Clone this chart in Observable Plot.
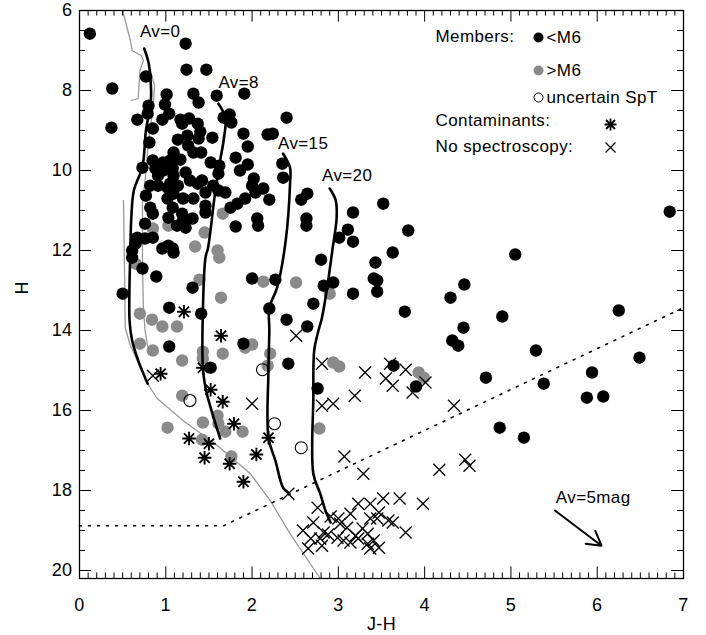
<!DOCTYPE html>
<html><head><meta charset="utf-8">
<script src="https://cdn.jsdelivr.net/npm/d3@7"></script>
<script src="https://cdn.jsdelivr.net/npm/@observablehq/plot@0.6"></script>
<style>
body{margin:0;background:#fff}
svg text{letter-spacing:0.4px}
</style>
</head><body><div id="chart"></div>
<script>
// ---- data: [J-H, H] ----
const membersEarly = [ // < M6 (black)
[0.12,6.58],[1.23,6.83],[1.24,7.48],[1.47,7.48],[0.38,7.95],[0.77,7.65],[0.37,8.93],
[1.01,8.1],[1.32,8.08],[1.38,8.3],[1.59,8.13],[1.91,8.08],[0.80,8.38],[0.99,8.35],[0.67,8.73],[0.79,8.58],[0.96,8.73],[1.04,8.58],[1.17,8.73],[1.27,8.7],[1.19,8.83],[1.37,8.83],[1.40,9.03],[1.67,8.68],[1.74,8.6],[1.76,8.8],[0.85,8.95],[1.90,9.08],[2.18,9.1],[1.25,9.13],[1.14,9.23],[1.38,9.2],[1.54,9.18],[0.81,9.3],[1.26,9.38],[1.95,9.4],[1.09,9.55],[1.32,9.55],[1.41,9.55],[1.81,9.68],[0.85,9.75],[1.17,9.73],[1.52,9.8],[0.97,9.8],[1.05,9.75],[0.73,9.93],[0.88,9.95],[0.97,10.0],[1.08,9.95],[1.62,9.88],[1.86,10.0],[1.95,9.85],[0.91,10.13],[1.09,10.13],[1.23,10.05],[1.61,10.08],[1.42,10.25],[1.28,10.25],[0.82,10.38],[1.02,10.43],[1.14,10.38],[1.55,10.38],[2.02,10.2],[2.0,10.38],[2.13,10.45],[2.40,8.68],[2.35,9.83],[2.36,10.18],[2.24,9.08],
[0.91,10.38],[1.05,10.33],[1.37,10.33],[1.61,10.5],[1.69,10.55],[2.04,10.55],[0.77,10.63],[1.02,10.7],[1.09,10.58],[1.20,10.7],[1.32,10.7],[1.46,10.55],[0.82,10.93],[0.85,11.08],[1.08,10.93],[1.46,10.88],[1.46,11.05],[1.75,10.93],[1.83,10.83],[1.92,10.7],[2.2,10.73],[1.03,11.18],[1.19,11.08],[1.20,11.25],[1.31,11.2],[1.13,11.38],[1.23,11.43],[0.76,11.33],[1.81,11.4],[2.06,11.2],[2.07,11.38],[0.67,11.68],[0.76,11.7],[0.85,11.68],[0.65,11.83],[0.61,12.0],[0.96,11.95],[1.08,11.95],[1.09,12.05],[1.03,11.88],[0.61,12.18],[0.73,12.45],
[0.89,12.65],[0.50,13.08],[1.31,12.93],[2.0,12.7],[2.27,12.73],[1.04,13.43],[1.41,13.58],[2.20,13.45],[2.40,13.73],[1.04,14.4],[1.90,14.33],[2.42,14.83],[1.52,14.93],
[2.57,10.73],[2.64,10.58],[2.63,11.2],[2.63,11.38],[3.17,11.05],[3.52,10.83],[3.11,11.48],[3.01,11.68],[3.17,11.78],[3.81,11.5],[3.63,12.05],[2.80,12.23],[3.43,12.3],[2.83,12.88],[2.94,12.8],[3.41,12.7],[3.45,12.75],[3.45,13.03],[3.17,13.08],[2.71,13.33],[3.77,13.53],[4.46,12.85],[4.30,13.18],[4.45,13.93],[4.32,14.25],[4.39,14.38],[2.64,13.9],
[3.64,14.88],[3.90,15.4],[2.76,15.45],[4.71,15.18],
[6.84,11.03],[5.05,12.1],[4.90,13.65],[6.25,13.5],[5.29,14.5],[6.49,14.68],[5.38,15.33],[5.94,15.05],[5.88,15.68],[6.07,15.65],[4.87,16.43],[5.15,16.68]
];
const membersLate = [ // > M6 (gray)
[1.66,11.08],[0.85,11.45],[1.03,11.38],[1.45,11.55],[1.34,11.9],[1.60,12.0],[1.62,12.18],[0.65,12.33],[1.39,12.73],[2.13,12.78],[1.64,13.18],[0.70,13.58],[0.84,13.73],[0.96,13.9],[1.13,13.9],[0.70,14.33],[0.85,14.5],[1.19,14.75],[1.43,14.53],[1.43,14.7],[1.66,14.58],[1.92,14.43],[2.0,14.35],[2.21,14.58],[2.18,14.88],[1.19,15.63],[1.02,16.43],[1.43,16.3],[1.60,16.13],[1.61,16.33],[1.69,16.53],[1.89,16.53],[1.42,16.73],[1.76,17.15],[2.51,12.8],[2.90,13.08],[2.94,14.8],[3.01,14.9],[3.93,15.05],[3.99,15.18],[2.78,16.45]
];
const membersUncertain = [[2.12,14.98],[1.28,15.75],[2.26,16.33],[2.57,16.93]];
const contaminants = [
[1.21,13.53],[1.64,14.13],[0.94,15.08],[1.43,14.93],[1.52,15.48],[1.66,15.78],[1.79,16.33],[1.27,16.7],[1.50,16.83],[2.19,16.68],[1.45,17.18],[1.74,17.33],[2.05,17.1],[1.90,17.78]
];
const noSpectroscopy = [
[0.85,15.13],[2.0,15.83],[2.42,18.08],[2.51,14.13],[2.81,14.83],[3.31,15.05],[3.60,14.83],[3.78,14.98],[3.55,15.2],[3.63,15.38],[4.01,15.3],[3.86,15.55],[3.19,15.63],[2.81,15.88],[2.94,15.83],[4.34,15.88],[3.07,17.15],[3.29,17.58],[4.17,17.48],[4.47,17.23],[4.52,17.38],
[2.76,18.43],[3.23,18.33],[3.37,18.33],[3.52,18.2],[3.71,18.2],[3.98,18.33],[3.47,18.55],[3.14,18.58],[3.0,18.7],[2.91,18.65],[3.58,18.75],[3.63,18.8],[2.71,18.8],[3.02,18.83],[3.10,18.93],[3.37,18.7],[3.45,18.7],[3.28,18.95],[3.78,19.05],[2.59,19.0],[2.83,19.05],[2.68,19.2],[2.79,19.2],[2.88,19.1],[2.99,19.18],[3.06,19.25],[3.14,19.3],[3.23,19.2],[3.34,19.08],[3.34,19.33],[3.41,19.25],[3.37,19.45],[3.47,19.43],[2.65,19.45],[2.81,19.38],[3.20,19.13]
];
// isochrones, reddened by Av
const iso0 = [[0.75,6.95],[0.80,7.3],[0.82,7.65],[0.83,8.1],[0.82,8.4],[0.77,9.0],[0.73,9.9],[0.63,10.5],[0.60,11.2],[0.59,11.93],[0.58,13.75],[0.61,14.25],[0.68,14.75],[0.76,15.18],[0.79,15.33]];
const iso8 = [[1.61,8.33],[1.69,8.68],[1.67,9.25],[1.63,9.75],[1.57,10.58],[1.49,11.93],[1.46,12.18],[1.43,13.5],[1.43,14.93],[1.46,15.43],[1.52,15.93],[1.63,16.7]];
const iso15 = [[2.36,9.58],[2.44,9.93],[2.44,10.33],[2.39,11.75],[2.29,12.93],[2.20,13.43],[2.20,14.0],[2.19,15.0],[2.19,16.68],[2.27,17.25],[2.36,17.93],[2.42,18.05]];
const iso20 = [[2.90,10.45],[2.97,10.75],[2.98,11.18],[2.93,12.0],[2.87,12.93],[2.81,13.68],[2.76,14.08],[2.72,14.5],[2.71,15.68],[2.71,17.58],[2.79,18.08],[2.85,18.5],[2.91,18.8]];
const isoLabels = ["Av=0","Av=8","Av=15","Av=20"];
const isoLabelX = [0.70,1.61,2.30,2.81];
const isoLabelH = [6.53,7.80,9.33,10.13];
// gray model tracks
const grayA = [[0.50,6.0],[0.59,6.75],[0.61,7.0],[0.65,7.05],[0.72,7.13],[0.74,7.25],[0.70,7.5],[0.68,8.2],[0.60,8.25]];
const grayC = [[0.82,7.5],[0.87,7.88],[0.85,8.5],[0.80,9.25],[0.76,10.25],[0.73,10.75],[0.73,12.33],[0.74,13.43],[0.76,14.0],[0.79,14.4]];
const grayB = [[0.51,10.75],[0.52,12.25],[0.53,13.93],[0.59,14.38],[0.68,14.8],[0.79,15.33],[0.90,15.7],[1.20,16.25],[1.60,16.88],[1.90,17.43],[1.98,17.58],[2.21,18.25],[2.44,19.08],[2.79,20.2]];
// completeness limit (dotted)
const limitLine = [[0,18.88],[1.67,18.88],[7,13.43]];
// reddening vector
const reddening = [{x1:5.51,h1:18.5,x2:6.05,h2:19.38,label:"Av=5mag",lx:5.52,lh:18.18}];
// axes
const xMajor = [0,1,2,3,4,5,6,7];
const yMajor = [6,8,10,12,14,16,18,20];
const xMinor = d3.range(0,71).map(i=>i/10).filter(v=>!xMajor.includes(v));
const yMinor = d3.range(12,41).map(i=>i/2).filter(v=>!yMajor.includes(v));
const legendLabels = ["Members:","<M6",">M6","uncertain SpT","Contaminants:","No spectroscopy:"];

// ---- symbols ----
const asterisk = {draw(ctx,size){const r=Math.sqrt(size/Math.PI),d=r*0.75;
  ctx.moveTo(-r,0);ctx.lineTo(r,0);ctx.moveTo(0,-r);ctx.lineTo(0,r);
  ctx.moveTo(-d,-d);ctx.lineTo(d,d);ctx.moveTo(-d,d);ctx.lineTo(d,-d);}};
const cross = {draw(ctx,size){const r=Math.sqrt(size/Math.PI);
  ctx.moveTo(-r,-r);ctx.lineTo(r,r);ctx.moveTo(-r,r);ctx.lineTo(r,-r);}};

const X = d=>d[0], Y = d=>d[1];
const GRAY = "#8a8a8a";
const FS = 17;
const lt = (label, dx, dy) => Plot.text([label], {frameAnchor: "top-left", dx, dy, text: d=>d, textAnchor: "start", lineAnchor: "middle", fontSize: FS});

const chart = Plot.plot({
  width: 706, height: 635,
  marginLeft: 79, marginRight: 23, marginTop: 10, marginBottom: 57,
  x: {domain: [0,7], axis: null},
  y: {domain: [20.2,6], axis: null},
  style: {fontFamily: "'Liberation Sans', Arial, Helvetica, sans-serif", fontSize: "17px", background: "#fff", color: "#000"},
  marks: [
    Plot.line(grayA, {x: X, y: Y, stroke: "#999", strokeWidth: 1.3}),
    Plot.line(grayC, {x: X, y: Y, stroke: "#999", strokeWidth: 1.3}),
    Plot.line(grayB, {x: X, y: Y, stroke: "#999", strokeWidth: 1.3}),
    Plot.line(limitLine, {x: X, y: Y, stroke: "#000", strokeWidth: 1.6, strokeDasharray: "2,7"}),
    Plot.dot(membersLate, {x: X, y: Y, r: 6.2, fill: GRAY}),
    Plot.dot(membersEarly, {x: X, y: Y, r: 6.2, fill: "#000"}),
    Plot.dot(membersUncertain, {x: X, y: Y, r: 6, fill: "none", stroke: "#000", strokeWidth: 1.1}),
    Plot.dot(contaminants, {x: X, y: Y, r: 6.8, symbol: asterisk, fill: "none", stroke: "#000", strokeWidth: 1.9}),
    Plot.dot(noSpectroscopy, {x: X, y: Y, r: 6, symbol: cross, fill: "none", stroke: "#000", strokeWidth: 1.3}),
    Plot.line(iso0, {x: X, y: Y, stroke: "#000", strokeWidth: 2.6, curve: "catmull-rom"}),
    Plot.line(iso8, {x: X, y: Y, stroke: "#000", strokeWidth: 2.6, curve: "catmull-rom"}),
    Plot.line(iso15, {x: X, y: Y, stroke: "#000", strokeWidth: 2.6, curve: "catmull-rom"}),
    Plot.line(iso20, {x: X, y: Y, stroke: "#000", strokeWidth: 2.6, curve: "catmull-rom"}),
    Plot.text(isoLabels, {x: (d,i)=>isoLabelX[i], y: (d,i)=>isoLabelH[i], text: d=>d, textAnchor: "start", lineAnchor: "middle", fontSize: FS}),
    Plot.arrow(reddening, {x1: "x1", y1: "h1", x2: "x2", y2: "h2", stroke: "#000", strokeWidth: 2, headLength: 12, headAngle: 60}),
    Plot.text(reddening, {x: "lx", y: "lh", text: "label", textAnchor: "start", lineAnchor: "middle", fontSize: FS}),
    // legend
    lt(legendLabels[0], 356, 26),
    Plot.dot([0], {frameAnchor: "top-left", dx: 459, dy: 27, r: 5, fill: "#000"}),
    lt(legendLabels[1], 467, 27),
    Plot.dot([0], {frameAnchor: "top-left", dx: 459, dy: 60, r: 5, fill: GRAY}),
    lt(legendLabels[2], 467, 60),
    Plot.dot([0], {frameAnchor: "top-left", dx: 459, dy: 87, r: 4.5, fill: "none", stroke: "#000", strokeWidth: 1}),
    lt(legendLabels[3], 467, 87),
    lt(legendLabels[4], 356, 110),
    Plot.dot([0], {frameAnchor: "top-left", dx: 531, dy: 114, r: 6, symbol: asterisk, fill: "none", stroke: "#000", strokeWidth: 1.8}),
    lt(legendLabels[5], 356, 136),
    Plot.dot([0], {frameAnchor: "top-left", dx: 531, dy: 137, r: 5, symbol: cross, fill: "none", stroke: "#000", strokeWidth: 1.2}),
    // frame and inward ticks
    Plot.frame({stroke: "#000", strokeWidth: 1.3}),
    Plot.ruleX(xMajor, {x: d=>d, y1: 20.2, y2: 20.2-0.29, stroke: "#000", strokeWidth: 1}),
    Plot.ruleX(xMinor, {x: d=>d, y1: 20.2, y2: 20.2-0.14, stroke: "#000", strokeWidth: 1}),
    Plot.ruleX(xMajor, {x: d=>d, y1: 6, y2: 6+0.29, stroke: "#000", strokeWidth: 1}),
    Plot.ruleX(xMinor, {x: d=>d, y1: 6, y2: 6+0.14, stroke: "#000", strokeWidth: 1}),
    Plot.ruleY(yMajor, {y: d=>d, x1: 0, x2: 0.14, stroke: "#000", strokeWidth: 1}),
    Plot.ruleY(yMinor, {y: d=>d, x1: 0, x2: 0.07, stroke: "#000", strokeWidth: 1}),
    Plot.ruleY(yMajor, {y: d=>d, x1: 7, x2: 7-0.14, stroke: "#000", strokeWidth: 1}),
    Plot.ruleY(yMinor, {y: d=>d, x1: 7, x2: 7-0.07, stroke: "#000", strokeWidth: 1}),
    // tick labels and axis titles
    Plot.text(xMajor, {x: d=>d, frameAnchor: "bottom", dy: 27, text: d=>String(d), lineAnchor: "middle", fontSize: 18}),
    Plot.text(yMajor, {y: d=>d, frameAnchor: "left", dx: -7, textAnchor: "end", lineAnchor: "middle", text: d=>String(d), fontSize: 18}),
    Plot.text(["J-H"], {frameAnchor: "bottom", dy: 46, text: d=>d, lineAnchor: "middle", fontSize: 18}),
    Plot.text(["H"], {frameAnchor: "left", dx: -57, rotate: -90, text: d=>d, lineAnchor: "middle", fontSize: 18})
  ]
});
document.getElementById("chart").appendChild(chart);
</script>
</body></html>
